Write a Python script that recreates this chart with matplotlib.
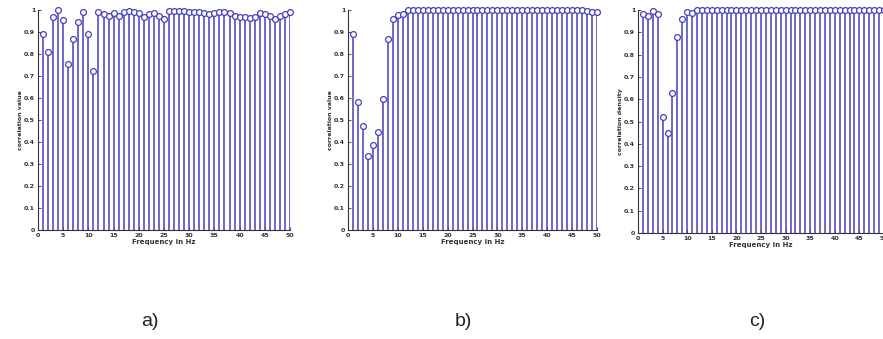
import numpy as np
import matplotlib
matplotlib.use("Agg")
import matplotlib.pyplot as plt

# frequency bins (Hz)
freq = np.arange(1, 51)

# correlation values
corr_a = [0.89, 0.81, 0.97, 1.00, 0.955, 0.755, 0.868, 0.947, 0.99, 0.89,
          0.724, 0.99, 0.98, 0.975, 0.985, 0.975, 0.99, 0.995, 0.99, 0.985,
          0.97, 0.98, 0.985, 0.975, 0.96, 0.995, 0.995, 0.995, 0.995, 0.99,
          0.99, 0.99, 0.985, 0.98, 0.985, 0.99, 0.99, 0.985, 0.975, 0.97,
          0.97, 0.965, 0.97, 0.985, 0.98, 0.975, 0.96, 0.975, 0.98, 0.99]

corr_b = [0.89, 0.583, 0.474, 0.336, 0.386, 0.444, 0.594, 0.868, 0.958, 0.977,
          0.982] + [1.0] * 36 + [0.995, 0.99, 0.99]

corr_c = [0.982, 0.973, 0.995, 0.982, 0.519, 0.45, 0.626, 0.878, 0.96, 0.99,
          0.985] + [1.0] * 39

xticks_ab = np.arange(0, 51, 5)
yticks = np.round(np.arange(0, 1.01, 0.1), 1)
ytick_labels = ['0'] + ['%.1f' % v for v in yticks[1:-1]] + ['1']

panels = [
    (corr_a, [38, 10, 290, 230], 'correlation value', 'a)', 150),
    (corr_b, [348, 10, 597, 230], 'correlation value', 'b)', 463),
    (corr_c, [638, 10, 884, 233], 'correlation density', 'c)', 757),
]

W, H = 883, 339
fig = plt.figure(figsize=(W / 100, H / 100), dpi=100)
fig.patch.set_facecolor('white')

stem_col = '#4640bc'

for vals, (x0, y0, x1, y1), ylab, tag, tx in panels:
    ax = fig.add_axes([x0 / W, 1 - y1 / H, (x1 - x0) / W, (y1 - y0) / H])
    ax.vlines(freq, 0, vals, color=stem_col, linewidth=1.1)
    ax.plot(freq, vals, 'o', markersize=4.2, markerfacecolor='white',
            markeredgecolor=stem_col, markeredgewidth=0.9, clip_on=False)
    ax.set_xlim(0, 50)
    ax.set_ylim(0, 1)
    ax.set_xticks(xticks_ab)
    ax.set_yticks(yticks)
    ax.set_yticklabels(ytick_labels)
    for s in ['top', 'right']:
        ax.spines[s].set_visible(False)
    for s in ['left', 'bottom']:
        ax.spines[s].set_color('#333333')
        ax.spines[s].set_linewidth(0.8)
    ax.tick_params(direction='in', length=2, width=0.6, labelsize=4.5,
                   pad=2, colors='#333333')
    for lab in ax.get_xticklabels() + ax.get_yticklabels():
        lab.set_fontweight('bold')
    ax.set_xlabel('Frequency in Hz', fontsize=5, labelpad=1, color='#333333',
                  fontweight='bold')
    ax.set_ylabel(ylab, fontsize=4.5, labelpad=1, color='#333333',
                  fontweight='bold')
    fig.text(tx / W, 1 - 322 / H, tag, fontsize=14, family='Liberation Sans',
             ha='center', va='center', color='#222222')

fig.savefig('out.png', dpi=100, facecolor='white')
